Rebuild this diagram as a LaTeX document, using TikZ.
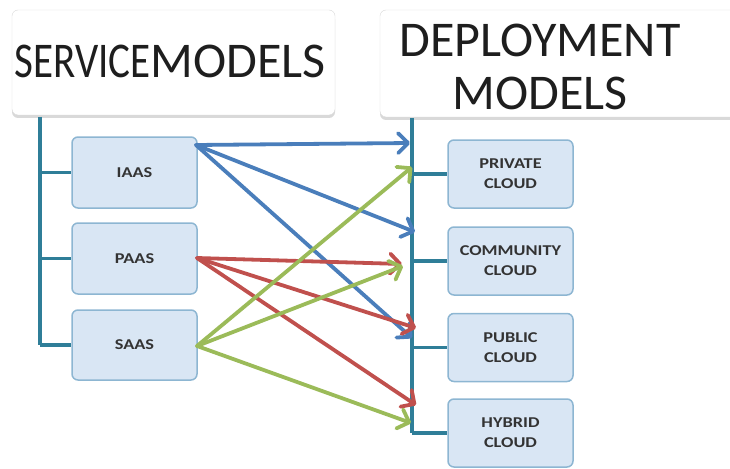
\documentclass[tikz,border=0pt]{standalone}
\usepackage{fontspec}
\setmainfont{Carlito}
\newfontfamily\boxfont[FakeStretch=1.22]{Carlito}
\newfontfamily\narrowfont[FakeStretch=0.82]{Carlito}
\usetikzlibrary{arrows.meta,shadows}
\definecolor{linecol}{HTML}{2F7E98}
\definecolor{boxfill}{HTML}{D9E6F4}
\definecolor{boxdraw}{HTML}{8DB6D2}
\definecolor{arrblue}{HTML}{4A7EBB}
\definecolor{arrred}{HTML}{C0504D}
\definecolor{arrgreen}{HTML}{9BBB59}
\definecolor{txt}{HTML}{1E1E1E}
\definecolor{boxtxt}{HTML}{333333}
\begin{document}
\begin{tikzpicture}[x=1pt,y=-1pt,
  titlebox/.style={draw=gray!30, fill=white, rounded corners=6pt,
    drop shadow={opacity=0.3, shadow xshift=0pt, shadow yshift=-3pt}},
  titletext/.style={font=\fontsize{50}{53}\selectfont, text=txt, inner sep=0pt, align=center},
  smallbox/.style={draw=boxdraw, line width=1.5pt, fill=boxfill, rounded corners=6pt,
    minimum width=125pt, inner sep=0pt, align=center, text=boxtxt,
    font=\boxfont\bfseries\fontsize{15}{20}\selectfont},
  trunk/.style={draw=linecol, line width=3.5pt},
  conn/.style={line width=3.8pt, line cap=round,
    -{Straight Barb[length=10pt,width=20pt,line width=3.8pt,line join=round,line cap=round]}}
]
\useasboundingbox (0,0) rectangle (730,468);

% title boxes
\node[titlebox, minimum width=323pt, minimum height=105pt] (svcbox) at (173.5,62.5) {};
\node[titletext] (svctxt) at (170,61) {{\narrowfont SERVICE}MODELS};
\node[titlebox, minimum width=365pt, minimum height=107pt] (depbox) at (562.5,63.5) {};
\node[titletext] (deptxt) at (540,67) {DEPLOYMENT\\MODELS};

% service model boxes
\node[smallbox, minimum height=71pt] (iaas) at (134.5,172.5) {IAAS};
\node[smallbox, minimum height=71pt] (paas) at (134.5,258.5) {PAAS};
\node[smallbox, minimum height=70pt] (saas) at (134.5,345) {SAAS};

% deployment model boxes
\node[smallbox, minimum height=68pt] (priv) at (510.5,174) {PRIVATE\\CLOUD};
\node[smallbox, minimum height=68pt] (comm) at (510.5,261) {COMMUNITY\\CLOUD};
\node[smallbox, minimum height=68pt] (pub) at (510.5,347.5) {PUBLIC\\CLOUD};
\node[smallbox, minimum height=68pt] (hyb) at (510.5,433) {HYBRID\\CLOUD};

% trunks
\coordinate (ltop) at (40,117);
\draw[trunk] (ltop) -- (ltop|-saas.west);
\foreach \n in {iaas,paas,saas} \draw[trunk] (ltop|-\n.west) -- (\n.west);
\coordinate (rtop) at (412,118);
\draw[trunk] (rtop) -- (rtop|-hyb.west);
\foreach \n in {priv,comm,pub,hyb} \draw[trunk] (rtop|-\n.west) -- (\n.west);

% arrow sources and tips
\coordinate (isrc) at (196,145);
\coordinate (psrc) at (197,258);
\coordinate (ssrc) at (197,346);
\coordinate (b1) at (410,143);
\coordinate (b2) at (415,232);
\coordinate (b3) at (412,338);
\coordinate (r1) at (402,264);
\coordinate (r2) at (416,328);
\coordinate (r3) at (416,405);
\coordinate (g1) at (412,167);
\coordinate (g2) at (403,266);
\coordinate (g3) at (411,423);

\draw[conn, arrblue] (isrc) -- (b1);
\draw[conn, arrblue] (isrc) -- (b2);
\draw[conn, arrblue] (isrc) -- (b3);
\draw[conn, arrred] (psrc) -- (r1);
\draw[conn, arrred] (psrc) -- (r2);
\draw[conn, arrred] (psrc) -- (r3);
\draw[conn, arrgreen] (ssrc) -- (g1);
\draw[conn, arrgreen] (ssrc) -- (g2);
\draw[conn, arrgreen] (ssrc) -- (g3);
\end{tikzpicture}
\end{document}
